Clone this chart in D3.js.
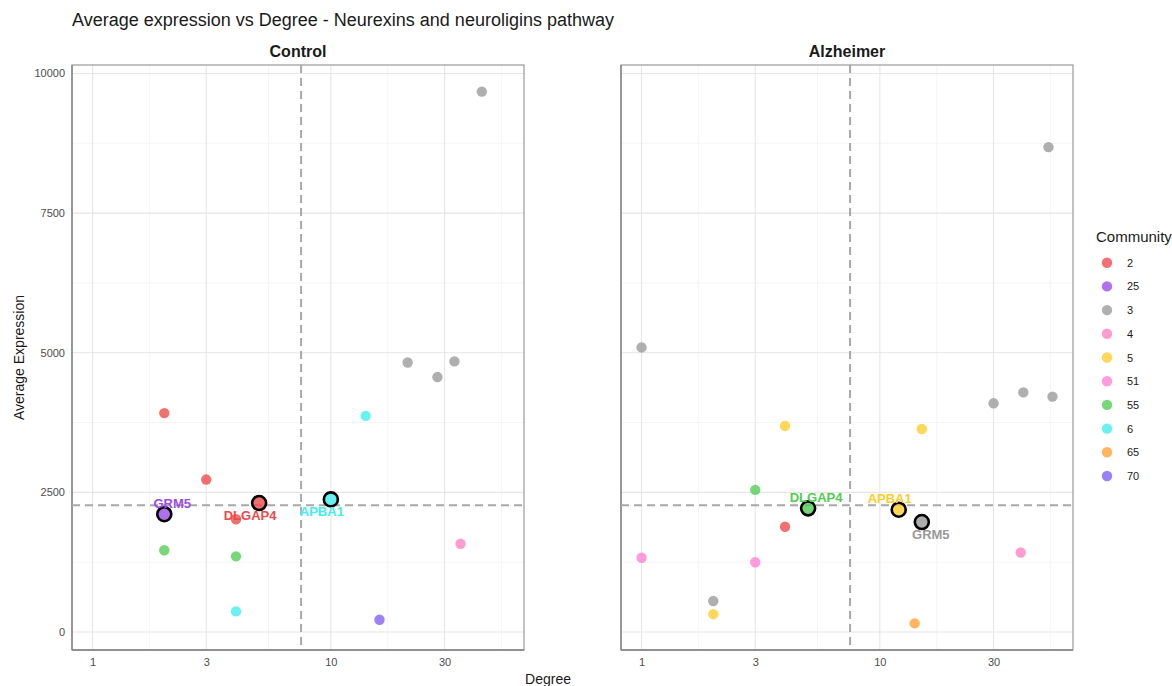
<!DOCTYPE html>
<html>
<head>
<meta charset="utf-8">
<script src="https://cdn.jsdelivr.net/npm/d3@7"></script>
<style>
  body { margin: 0; background: #fff; }
  svg { display: block; font-family: "Liberation Sans", Arial, Helvetica, sans-serif; }
</style>
</head>
<body>
<svg id="chart" width="1172" height="686"></svg>
<script>
// ---- data ----------------------------------------------------------------
const panels = ["Control", "Alzheimer"];

const controlDegree     = [2, 3, 4, 5, 2, 2, 4, 4, 10, 14, 21, 28, 33, 43, 35, 16];
const controlExpression = [3920, 2730, 2020, 2310, 2110, 1465, 1355, 370, 2375, 3870, 4825, 4565, 4845, 9675, 1580, 220];
const controlCommunity  = ["2", "2", "2", "2", "25", "55", "55", "6", "6", "6", "3", "3", "3", "3", "4", "70"];
const controlGene       = ["", "", "", "DLGAP4", "GRM5", "", "", "", "APBA1", "", "", "", "", "", "", ""];

const alzheimerDegree     = [1, 2, 15, 30, 40, 53, 51, 4, 2, 12, 15, 3, 5, 4, 1, 3, 39, 14];
const alzheimerExpression = [5095, 555, 1970, 4095, 4290, 4215, 8680, 3690, 320, 2190, 3635, 2545, 2215, 1885, 1330, 1250, 1425, 155];
const alzheimerCommunity  = ["3", "3", "3", "3", "3", "3", "3", "5", "5", "5", "5", "55", "55", "2", "51", "51", "4", "65"];
const alzheimerGene       = ["", "", "GRM5", "", "", "", "", "", "", "APBA1", "", "", "DLGAP4", "", "", "", "", ""];

const communities = ["2", "25", "3", "4", "5", "51", "55", "6", "65", "70"];
const communityColors = ["#EF4848", "#9B4CE8", "#999999", "#FF82C2", "#FFCC2A", "#FF80D6", "#52CC52", "#3FEEEE", "#FFA033", "#7F5CF5"];

// reference cut-offs drawn as dashed lines
const degreeCutoff = 7.5;
const expressionCutoff = 2270;

// axis breaks
const xBreaks = [1, 3, 10, 30];
const yBreaks = [0, 2500, 5000, 7500, 10000];

// label placement relative to the highlighted point [dx, dy], per panel
const labelNudge = {
  Control:   { GRM5: [8, -11], DLGAP4: [-9, 12], APBA1: [-9, 12] },
  Alzheimer: { DLGAP4: [8, -11], APBA1: [-9, -11], GRM5: [9, 12] }
};

// ---- assemble rows -------------------------------------------------------
function rows(deg, expr, comm, gene) {
  return deg.map((d, i) => ({ degree: d, expression: expr[i], community: comm[i], gene: gene[i] }));
}
const panelData = {
  Control: rows(controlDegree, controlExpression, controlCommunity, controlGene),
  Alzheimer: rows(alzheimerDegree, alzheimerExpression, alzheimerCommunity, alzheimerGene)
};
const all = panelData.Control.concat(panelData.Alzheimer);

// ---- layout --------------------------------------------------------------
const svg = d3.select("#chart");
const panelTop = 65, panelBottom = 650;
const panelLefts = [72, 621];
const panelWidth = 452;

const color = d3.scaleOrdinal().domain(communities).range(communityColors);

// shared scales with 5% expansion on both axes
const lx = d3.extent(all, d => Math.log10(d.degree));
const lr = lx[1] - lx[0];
const xDomain = [Math.pow(10, lx[0] - 0.05 * lr), Math.pow(10, lx[1] + 0.05 * lr)];
const ye = d3.extent(all, d => d.expression);
const yr = ye[1] - ye[0];
const yDomain = [ye[0] - 0.05 * yr, ye[1] + 0.05 * yr];

const y = d3.scaleLinear().domain(yDomain).range([panelBottom, panelTop]);

// minor breaks: midpoints in transformed space, extended one step past the ends
function minorLog(breaks) {
  const t = breaks.map(Math.log10);
  const out = [];
  for (let i = 0; i < t.length - 1; i++) out.push((t[i] + t[i + 1]) / 2);
  out.unshift(t[0] - (t[1] - t[0]) / 2);
  out.push(t[t.length - 1] + (t[t.length - 1] - t[t.length - 2]) / 2);
  return out.map(v => Math.pow(10, v));
}
const xMinor = minorLog(xBreaks);
const yMinor = [];
for (let i = 0; i < yBreaks.length - 1; i++) yMinor.push((yBreaks[i] + yBreaks[i + 1]) / 2);

// ---- title ---------------------------------------------------------------
svg.append("text")
  .attr("x", 72).attr("y", 26)
  .attr("font-size", 18).attr("fill", "#1a1a1a")
  .text("Average expression vs Degree - Neurexins and neuroligins pathway");

// ---- panels --------------------------------------------------------------
panels.forEach((name, pi) => {
  const left = panelLefts[pi];
  const x = d3.scaleLog().domain(xDomain).range([left, left + panelWidth]);
  const g = svg.append("g");
  const inX = v => x(v) >= left && x(v) <= left + panelWidth;
  const inY = v => y(v) >= panelTop && y(v) <= panelBottom;

  // minor grid
  g.selectAll(".xminor").data(xMinor.filter(inX)).join("line")
    .attr("x1", d => x(d)).attr("x2", d => x(d))
    .attr("y1", panelTop).attr("y2", panelBottom)
    .attr("stroke", "#F2F2F2").attr("stroke-width", 0.8);
  g.selectAll(".yminor").data(yMinor.filter(inY)).join("line")
    .attr("y1", d => y(d)).attr("y2", d => y(d))
    .attr("x1", left).attr("x2", left + panelWidth)
    .attr("stroke", "#F2F2F2").attr("stroke-width", 0.8);

  // major grid
  g.selectAll(".xmajor").data(xBreaks.filter(inX)).join("line")
    .attr("x1", d => x(d)).attr("x2", d => x(d))
    .attr("y1", panelTop).attr("y2", panelBottom)
    .attr("stroke", "#E6E6E6").attr("stroke-width", 1.1);
  g.selectAll(".ymajor").data(yBreaks.filter(inY)).join("line")
    .attr("y1", d => y(d)).attr("y2", d => y(d))
    .attr("x1", left).attr("x2", left + panelWidth)
    .attr("stroke", "#E6E6E6").attr("stroke-width", 1.1);

  // panel border
  g.append("rect")
    .attr("x", left).attr("y", panelTop)
    .attr("width", panelWidth).attr("height", panelBottom - panelTop)
    .attr("fill", "none").attr("stroke", "#9A9A9A").attr("stroke-width", 1.2);

  // axis lines (left & bottom)
  g.append("line").attr("x1", left).attr("x2", left).attr("y1", panelTop).attr("y2", panelBottom)
    .attr("stroke", "#808080").attr("stroke-width", 1.3);
  g.append("line").attr("x1", left).attr("x2", left + panelWidth).attr("y1", panelBottom).attr("y2", panelBottom)
    .attr("stroke", "#808080").attr("stroke-width", 1.3);

  // x axis tick labels
  const xAxis = d3.axisBottom(x).tickValues(xBreaks).tickFormat(d3.format("d")).tickSize(0).tickPadding(8);
  const xa = g.append("g").attr("transform", `translate(0,${panelBottom})`).call(xAxis);
  xa.select(".domain").remove();
  xa.selectAll("text").attr("font-size", 11).attr("fill", "#4D4D4D")
    .attr("font-family", "Liberation Sans, Arial, sans-serif");

  // y axis tick labels on the first panel only
  if (pi === 0) {
    const yAxis = d3.axisLeft(y).tickValues(yBreaks).tickFormat(d3.format("d")).tickSize(0).tickPadding(7);
    const ya = g.append("g").attr("transform", `translate(${left},0)`).call(yAxis);
    ya.select(".domain").remove();
    ya.selectAll("text").attr("font-size", 11).attr("fill", "#4D4D4D")
      .attr("font-family", "Liberation Sans, Arial, sans-serif");
  }

  // reference cut-offs
  g.append("line")
    .attr("x1", x(degreeCutoff)).attr("x2", x(degreeCutoff))
    .attr("y1", panelTop).attr("y2", panelBottom)
    .attr("stroke", "#A8A8A8").attr("stroke-width", 2).attr("stroke-dasharray", "8,5");
  g.append("line")
    .attr("x1", left).attr("x2", left + panelWidth)
    .attr("y1", y(expressionCutoff)).attr("y2", y(expressionCutoff))
    .attr("stroke", "#A8A8A8").attr("stroke-width", 2).attr("stroke-dasharray", "8,5");

  // strip label
  g.append("text")
    .attr("x", left + panelWidth / 2).attr("y", 57)
    .attr("text-anchor", "middle").attr("font-size", 16).attr("font-weight", "bold")
    .attr("fill", "#1a1a1a").text(name);

  const data = panelData[name];
  // ordinary points
  g.selectAll(".pt").data(data.filter(d => !d.gene)).join("circle")
    .attr("cx", d => x(d.degree)).attr("cy", d => y(d.expression))
    .attr("r", 5.2)
    .attr("fill", d => color(d.community)).attr("fill-opacity", 0.78);

  // highlighted genes
  const hi = data.filter(d => d.gene);
  g.selectAll(".hi").data(hi).join("circle")
    .attr("cx", d => x(d.degree)).attr("cy", d => y(d.expression))
    .attr("r", 7)
    .attr("fill", d => color(d.community)).attr("fill-opacity", 0.8)
    .attr("stroke", "#000").attr("stroke-width", 2.6);

  g.selectAll(".lbl").data(hi).join("text")
    .attr("x", d => x(d.degree) + labelNudge[name][d.gene][0])
    .attr("y", d => y(d.expression) + labelNudge[name][d.gene][1])
    .attr("text-anchor", "middle").attr("dominant-baseline", "central")
    .attr("font-size", 13).attr("font-weight", "bold")
    .attr("fill", d => color(d.community))
    .text(d => d.gene);
});

// ---- axis titles ---------------------------------------------------------
svg.append("text")
  .attr("transform", `translate(24,${(panelTop + panelBottom) / 2}) rotate(-90)`)
  .attr("text-anchor", "middle").attr("font-size", 14).attr("fill", "#1a1a1a")
  .text("Average Expression");
svg.append("text")
  .attr("x", 548).attr("y", 684)
  .attr("text-anchor", "middle").attr("font-size", 14).attr("fill", "#1a1a1a")
  .text("Degree");

// ---- legend --------------------------------------------------------------
const legend = svg.append("g");
legend.append("text")
  .attr("x", 1096).attr("y", 242)
  .attr("font-size", 15).attr("fill", "#1a1a1a").text("Community");
const items = legend.selectAll(".item").data(communities).join("g")
  .attr("transform", (d, i) => `translate(1107,${262.7 + i * 23.7})`);
items.append("circle").attr("r", 5.2)
  .attr("fill", d => color(d)).attr("fill-opacity", 0.78);
items.append("text").attr("x", 20).attr("dominant-baseline", "central")
  .attr("font-size", 11).attr("fill", "#1a1a1a").text(d => d);
</script>
</body>
</html>
